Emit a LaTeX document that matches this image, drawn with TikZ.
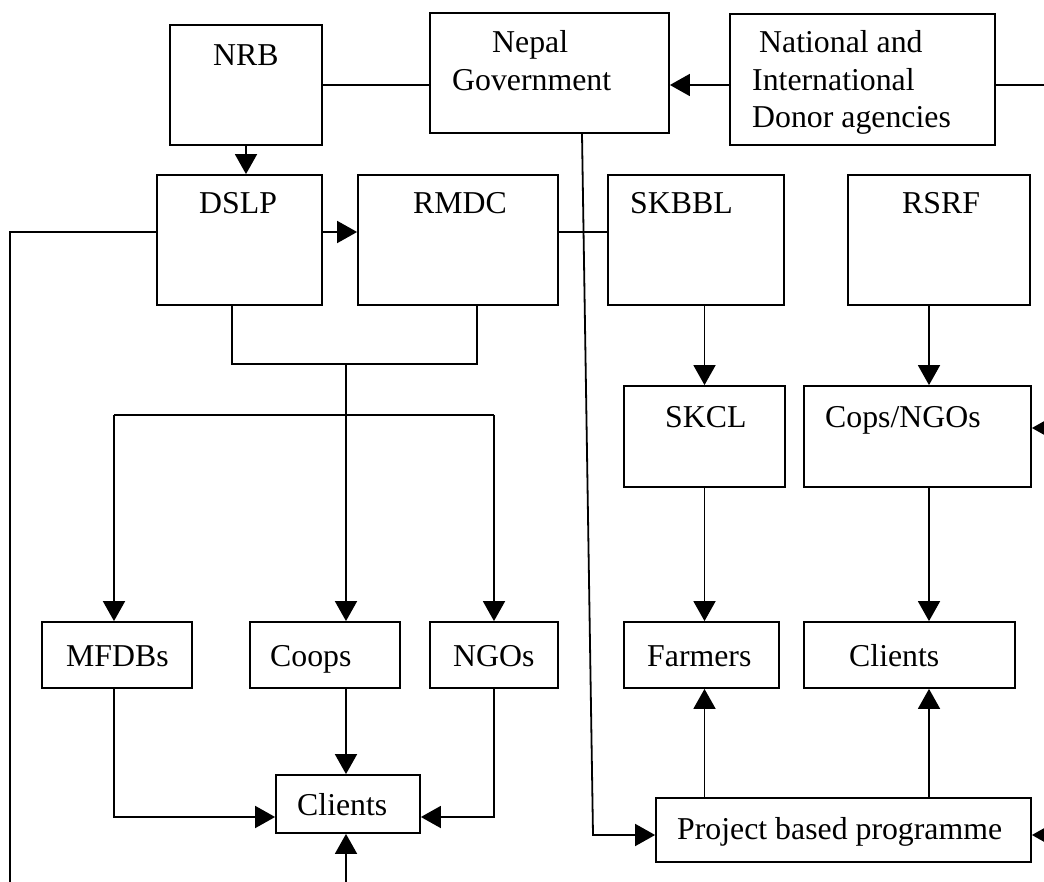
\documentclass[tikz,border=0pt]{standalone}
\usepackage{fontspec}
\setmainfont{Liberation Serif}
\usetikzlibrary{arrows.meta,calc}
\begin{document}
\begin{tikzpicture}[x=1pt,y=-1pt,
  box/.style={draw,line width=1.8pt,inner sep=0pt,rectangle},
  lbl/.style={font=\fontsize{31.8}{38}\selectfont,inner sep=0pt,anchor=base west},
  ln/.style={line width=1.8pt},
  arr/.style={line width=1.8pt,-{Triangle[length=20pt,width=22pt]}}]
\useasboundingbox[fill=white] (0,0) rectangle (1044,882);
% boxes
\node[box,minimum width=152pt,minimum height=120pt] (nrb) at (246,85) {};
\node[box,minimum width=239pt,minimum height=120pt] (gov) at (549.5,73) {};
\node[box,minimum width=265pt,minimum height=131pt] (donor) at (862.5,79.5) {};
\node[box,minimum width=165pt,minimum height=130pt] (dslp) at (239.5,240) {};
\node[box,minimum width=200pt,minimum height=130pt] (rmdc) at (458,240) {};
\node[box,minimum width=176pt,minimum height=130pt] (skbbl) at (696,240) {};
\node[box,minimum width=182pt,minimum height=130pt] (rsrf) at (939,240) {};
\node[box,minimum width=161pt,minimum height=101pt] (skcl) at (704.5,436.5) {};
\node[box,minimum width=227pt,minimum height=101pt] (cops) at (917.5,436.5) {};
\node[box,minimum width=150pt,minimum height=66pt] (mfdbs) at (117,655) {};
\node[box,minimum width=150pt,minimum height=66pt] (coops) at (325,655) {};
\node[box,minimum width=128pt,minimum height=66pt] (ngos) at (494,655) {};
\node[box,minimum width=155pt,minimum height=66pt] (farmers) at (701.5,655) {};
\node[box,minimum width=211pt,minimum height=66pt] (clientsr) at (909.5,655) {};
\node[box,minimum width=144pt,minimum height=58pt] (clientsl) at (348,804) {};
\node[box,minimum width=375pt,minimum height=64pt] (project) at (843.5,830) {};
% labels
\node[lbl] (tnrb) at (213,66) {NRB};
\node[lbl] (tgov1) at (492,53) {Nepal};
\node[lbl] (tgov2) at (452,91) {Government};
\node[lbl] (tdon1) at (759,53) {National and};
\node[lbl] (tdon2) at (752,91) {International};
\node[lbl] (tdon3) at (752,128) {Donor agencies};
\node[lbl] (tdslp) at (199,214) {DSLP};
\node[lbl] (trmdc) at (413,214) {RMDC};
\node[lbl] (tskbbl) at (630,214) {SKBBL};
\node[lbl] (trsrf) at (902,214) {RSRF};
\node[lbl] (tskcl) at (665,428) {SKCL};
\node[lbl] (tcops) at (825,428) {Cops/NGOs};
\node[lbl] (tmfdbs) at (66,666) {MFDBs};
\node[lbl] (tcoops) at (270,666) {Coops};
\node[lbl] (tngos) at (453,666) {NGOs};
\node[lbl] (tfarm) at (647,666) {Farmers};
\node[lbl] (tclr) at (849,666) {Clients};
\node[lbl] (tcll) at (297,815) {Clients};
\node[lbl] (tproj) at (677,839) {Project based programme};
% helper coordinates
\coordinate (edgeTop) at (1044,85);
\coordinate (yA) at (0,232);
\coordinate (leftTop) at (10,232);
\coordinate (leftBot) at (10,882);
\coordinate (brL) at (232,364);
\coordinate (brR) at (477,364);
\coordinate (brM) at (346,364);
\coordinate (bL) at (114,415);
\coordinate (bR) at (494,415);
\coordinate (yC) at (0,817);
\coordinate (botC) at (346,882);
\coordinate (xR) at (929,0);
\coordinate (edgeC) at (1044,428);
\coordinate (edgeP) at (1044,835);
\coordinate (diagB) at (593,835);
% connectors
\draw[ln] (nrb.east) -- (nrb.east -| gov.west);
\draw[arr] (donor.west |- edgeTop) -- (gov.east |- edgeTop);
\draw[ln] (donor.east |- edgeTop) -- (edgeTop);
\draw[arr] (nrb.south) -- (nrb.south |- dslp.north);
\draw[arr] (dslp.east |- yA) -- (rmdc.west |- yA);
\draw[ln] (rmdc.east |- yA) -- (skbbl.west |- yA);
\draw[ln] (dslp.west |- yA) -- (leftTop) -- (leftBot);
\draw[ln] (dslp.south -| brL) -- (brL) -- (brR) -- (rmdc.south -| brR);
\draw[arr] (brM) -- (brM |- coops.north);
\draw[ln] (bL) -- (bR);
\draw[arr] (bL) -- (bL |- mfdbs.north);
\draw[arr] (bR) -- (bR |- ngos.north);
\draw[arr] (brM |- coops.south) -- (brM |- clientsl.north);
\draw[arr] (bL |- mfdbs.south) -- (bL |- yC) -- (clientsl.west |- yC);
\draw[arr] (bR |- ngos.south) -- (bR |- yC) -- (clientsl.east |- yC);
\draw[arr] (botC) -- (botC |- clientsl.south);
\draw[arr] (skcl.north |- skbbl.south) -- (skcl.north);
\draw[arr] (xR |- rsrf.south) -- (xR |- cops.north);
\draw[arr] (skcl.south) -- (skcl.south |- farmers.north);
\draw[arr] (xR |- cops.south) -- (xR |- clientsr.north);
\draw[arr] (skcl.south |- project.north) -- (skcl.south |- farmers.south);
\draw[arr] (xR |- project.north) -- (xR |- clientsr.south);
\draw[arr] (edgeC) -- (edgeC -| cops.east);
\draw[arr] (edgeP) -- (edgeP -| project.east);
\draw[arr] ($(gov.south)+(32.5,0)$) -- (diagB) -- (diagB -| project.west);
\end{tikzpicture}
\end{document}
